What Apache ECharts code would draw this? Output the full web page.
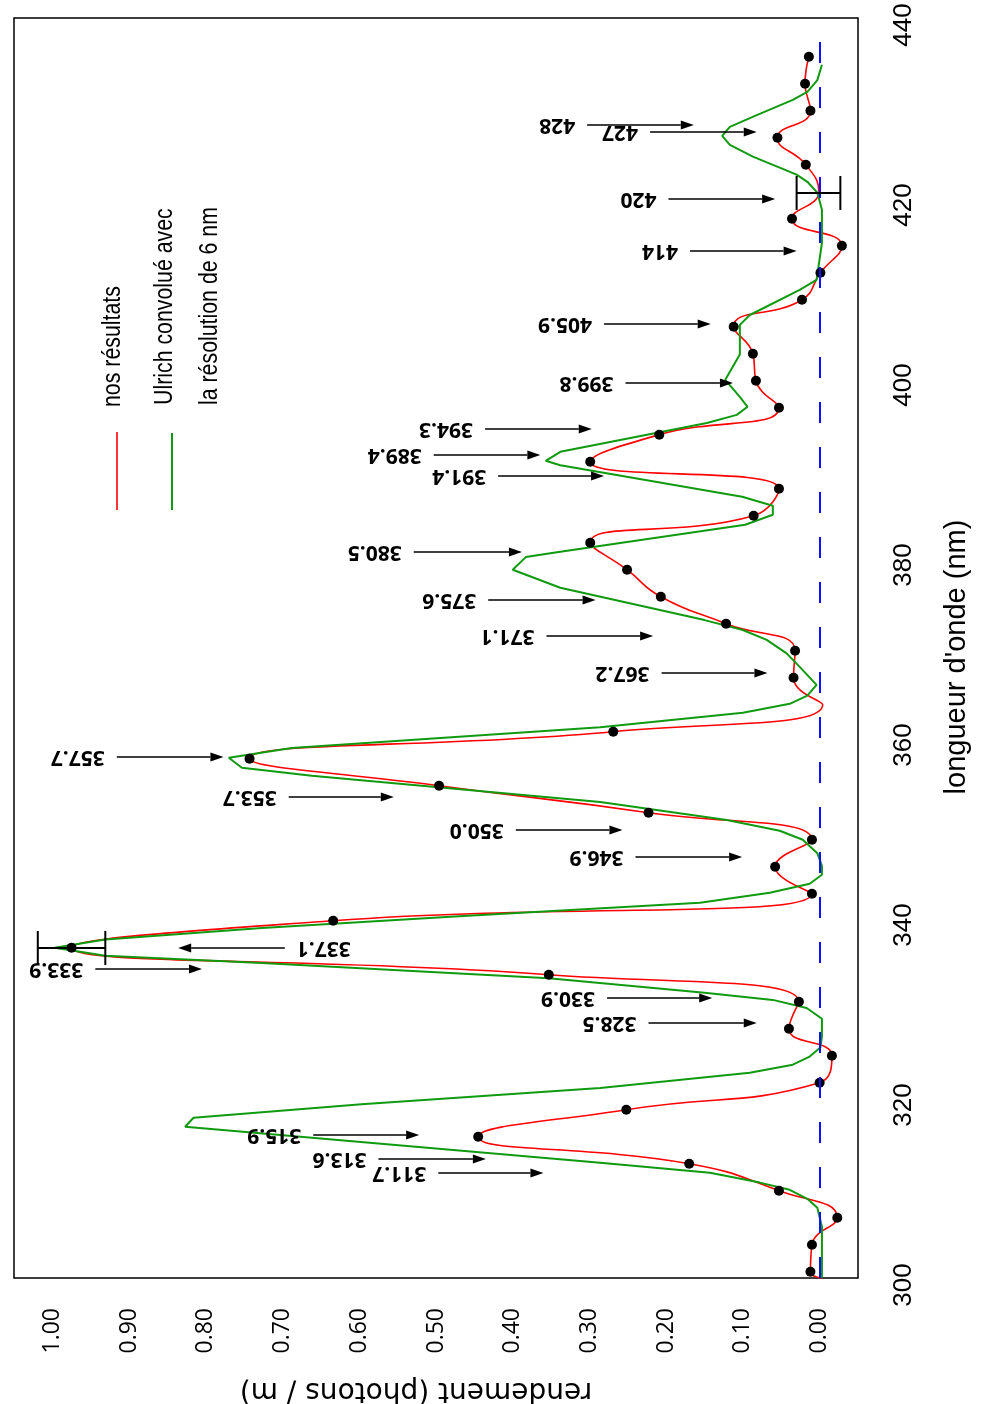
<!DOCTYPE html>
<html><head><meta charset="utf-8">
<script src="https://cdn.jsdelivr.net/npm/echarts@6/dist/echarts.min.js"></script>
<style>html,body{margin:0;padding:0;background:#fff}#c{width:983px;height:1404px}</style>
</head><body><div id="c"></div>
<script>
// ---- data (wavelength in nm, rendement in photons / m) ----
const rendTicks = [0, 0.1, 0.2, 0.3, 0.4, 0.5, 0.6, 0.7, 0.8, 0.9, 1.0];

// measured points ("nos résultats", black dots)
const dotWl  = [300.7,303.7,306.7,309.7,312.7,315.7,318.7,321.7,324.7,327.7,330.7,333.7,336.7,339.7,342.7,345.7,348.7,351.7,354.7,357.7,360.7,
                366.7,369.7,372.7,375.7,378.7,381.7,384.7,387.7,390.7,393.7,396.7,399.7,402.7,405.7,408.7,411.7,414.7,417.7,
                423.7,426.7,429.7,432.7,435.7];
const dotVal = [0.012,0.010,-0.023,0.053,0.170,0.445,0.252,0.000,-0.016,0.040,0.027,0.353,0.975,0.634,0.010,0.058,0.010,0.223,0.496,0.743,0.269,
                0.034,0.032,0.122,0.207,0.251,0.299,0.086,0.053,0.299,0.209,0.053,0.083,0.087,0.112,0.023,-0.001,-0.029,0.036,
                0.018,0.055,0.012,0.019,0.014];
// extra knots of the red curve that carry no dot
const knotWl  = [300.0, 363.7, 420.7];
const knotVal = [-0.004, -0.004, 0.001];

// "Ulrich convolué avec la résolution de 6 nm"
const ulrichWl  = [300.0,305.7,307.8,308.8,309.8,310.6,311.7,312.8,316.8,317.8,319.3,321.1,322.8,323.7,324.6,325.6,326.8,328.8,330.0,330.9,
                   331.7,333.3,335.0,335.8,336.7,337.6,338.9,340.2,341.7,342.8,343.8,344.8,345.8,347.2,348.7,349.7,350.9,352.9,355.8,356.7,
                   357.8,358.9,361.2,362.8,363.8,364.7,365.9,367.9,369.4,370.9,372.0,373.1,376.7,378.7,380.1,380.7,383.7,384.8,385.8,386.8,
                   390.3,390.8,391.8,395.0,395.9,396.8,397.9,399.8,402.6,405.9,407.0,409.8,410.9,415.0,418.7,420.6,421.8,422.6,424.6,425.9,
                   426.9,427.9,429.2,430.9,431.8,433.1,434.8];
const ulrichVal = [-0.003,-0.003,0.003,0.016,0.039,0.078,0.143,0.286,0.827,0.816,0.597,0.286,0.091,0.035,0.013,-0.001,-0.003,-0.003,0.017,0.061,
                   0.150,0.353,0.727,0.931,0.997,0.931,0.727,0.470,0.156,0.065,0.013,-0.003,-0.003,0.003,0.022,0.052,0.121,0.286,0.662,0.753,
                   0.770,0.688,0.286,0.100,0.039,0.016,0.004,0.026,0.043,0.069,0.100,0.150,0.338,0.400,0.383,0.338,0.097,0.061,0.061,0.101,
                   0.338,0.357,0.338,0.147,0.108,0.094,0.104,0.123,0.104,0.104,0.091,0.026,0.004,-0.003,-0.003,0.003,0.016,0.030,0.087,0.117,
                   0.127,0.117,0.082,0.035,0.016,0.003,-0.003];

// annotations: label, wavelength of the arrow, arrow tail and head (rendement)
const annLabels = ['311.7','313.6','315.9','328.5','330.9','333.9','337.1','346.9','350.0','353.7','357.7','367.2',
                   '371.1','375.6','380.5','391.4','389.4','394.3','399.8','405.9','414','420','427','428'];
const annWl   = [311.67,313.22,315.89,328.33,331.11,334.33,336.67,346.78,349.78,353.44,357.89,367.22,
                 371.33,375.33,380.67,389.11,391.44,394.33,399.44,406.0,414.11,419.89,427.33,428.11];
const annTail = [0.497,0.575,0.660,0.223,0.277,0.944,0.697,0.240,0.396,0.692,0.916,0.206,
                 0.356,0.432,0.529,0.419,0.503,0.436,0.253,0.281,0.169,0.197,0.221,0.303];
const annHead = [0.360,0.435,0.522,0.082,0.140,0.805,0.836,0.101,0.257,0.555,0.777,0.068,
                 0.217,0.292,0.388,0.281,0.364,0.297,0.113,0.142,0.030,0.058,0.082,0.164];

// error bars
const errWl   = [336.67, 420.56];
const errLow  = [0.931, -0.027];
const errHigh = [1.019, 0.030];

// ---- build ----
const redPts = dotWl.map((w, i) => [dotVal[i], w]).concat(knotWl.map((w, i) => [knotVal[i], w]))
  .sort((a, b) => a[1] - b[1]);
const dotPts = dotWl.map((w, i) => [dotVal[i], w]);
const ulrichPts = ulrichWl.map((w, i) => [ulrichVal[i], w]);

const sansL = '"Liberation Sans", Arial, sans-serif';

const chart = echarts.init(document.getElementById('c'), null, {renderer: 'canvas'});
chart.setOption({
  animation: false,
  backgroundColor: '#fff',
  grid: {left: 14, top: 18, right: 125, bottom: 126, show: true, borderColor: '#000', borderWidth: 1.5,
         backgroundColor: 'transparent', containLabel: false, outerBoundsMode: 'none'},
  xAxis: {
    type: 'value', inverse: true, min: -0.05, max: 1.05,
    axisLine: {show: false}, axisTick: {show: false}, splitLine: {show: false},
    axisLabel: {customValues: rendTicks, formatter: v => v.toFixed(2), rotate: 90, margin: 30,
                fontFamily: '"Open Sans", sans-serif', fontSize: 23, color: '#000'},
    name: 'rendement (photons / m)', nameLocation: 'middle', nameRotate: 180, nameGap: 98,
    nameTextStyle: {fontFamily: '"DejaVu Sans", sans-serif', fontSize: 28, color: '#000', padding: [0, 0, 0, 40]}
  },
  yAxis: {
    type: 'value', position: 'right', min: 300, max: 440, interval: 20,
    axisLine: {show: false}, axisTick: {show: false}, splitLine: {show: false},
    axisLabel: {rotate: 90, margin: 33, fontFamily: sansL, fontSize: 26, color: '#000', padding: [0, 14, 0, 0]},
    name: "longueur d'onde (nm)", nameLocation: 'middle', nameRotate: 90, nameGap: 84,
    nameTextStyle: {fontFamily: sansL, fontSize: 29, color: '#000', padding: [0, 18, 0, 0]}
  },
  series: [
    {type: 'line', name: 'nos résultats', data: redPts, smooth: 0.5, showSymbol: false, symbol: 'none',
     lineStyle: {color: '#ff0000', width: 1.6}, z: 2},
    {type: 'line', name: 'Ulrich', data: ulrichPts, smooth: false, showSymbol: false, symbol: 'none',
     lineStyle: {color: '#109a10', width: 2}, z: 3},
    {type: 'scatter', data: dotPts, symbol: 'circle', symbolSize: 10, itemStyle: {color: '#000', opacity: 1}, z: 4,
     markLine: {silent: true, symbol: 'none', label: {show: false},
                lineStyle: {color: '#1010ff', width: 2, type: [21, 24], opacity: 1},
                data: [{xAxis: 0}]}},
    {type: 'custom', coordinateSystem: 'cartesian2d', z: 5, clip: false,
     data: annWl.map((w, i) => [annTail[i], w, annHead[i], i]),
     encode: {x: [0, 2], y: 1},
     renderItem(params, api) {
       const w = api.value(1);
       const p0 = api.coord([api.value(0), w]);
       const p1 = api.coord([api.value(2), w]);
       const d = Math.sign(p1[0] - p0[0]);
       const head = 13, hw = 4.5;
       return {type: 'group', children: [
         {type: 'line', shape: {x1: p0[0], y1: p0[1], x2: p1[0] - d * head, y2: p1[1]}, style: {stroke: '#000', lineWidth: 1.6}},
         {type: 'polygon', shape: {points: [[p1[0], p1[1]], [p1[0] - d * head, p1[1] - hw], [p1[0] - d * head, p1[1] + hw]]}, style: {fill: '#000'}},
         {type: 'text', x: p0[0] - d * 12, y: p0[1], rotation: Math.PI,
          style: {text: annLabels[api.value(3)], align: d > 0 ? 'left' : 'right', verticalAlign: 'middle',
                  font: 'bold 21px "Open Sans", sans-serif', fill: '#000'}}
       ]};
     }},
    {type: 'custom', coordinateSystem: 'cartesian2d', z: 5, clip: false,
     data: errWl.map((w, i) => [errLow[i], w, errHigh[i]]),
     encode: {x: [0, 2], y: 1},
     renderItem(params, api) {
       const w = api.value(1);
       const a = api.coord([api.value(0), w]);
       const b = api.coord([api.value(2), w]);
       const c = 17;
       const st = {stroke: '#000', lineWidth: 2};
       return {type: 'group', children: [
         {type: 'line', shape: {x1: a[0], y1: a[1], x2: b[0], y2: b[1]}, style: st},
         {type: 'line', shape: {x1: a[0], y1: a[1] - c, x2: a[0], y2: a[1] + c}, style: st},
         {type: 'line', shape: {x1: b[0], y1: b[1] - c, x2: b[0], y2: b[1] + c}, style: st}
       ]};
     }}
  ],
  graphic: [
    {type: 'line', shape: {x1: 117, y1: 432, x2: 117, y2: 510}, style: {stroke: '#ff0000', lineWidth: 1.6}},
    {type: 'line', shape: {x1: 172, y1: 433, x2: 172, y2: 510}, style: {stroke: '#109a10', lineWidth: 2}},
    {type: 'text', x: 113, y: 407, rotation: Math.PI / 2, scaleX: 0.82,
     style: {text: 'nos résultats', align: 'left', verticalAlign: 'middle', font: '26px "Liberation Sans", sans-serif', fill: '#000'}},
    {type: 'text', x: 165, y: 405, rotation: Math.PI / 2, scaleX: 0.82,
     style: {text: 'Ulrich convolué avec', align: 'left', verticalAlign: 'middle', font: '26px "Liberation Sans", sans-serif', fill: '#000'}},
    {type: 'text', x: 210, y: 405, rotation: Math.PI / 2, scaleX: 0.82,
     style: {text: 'la résolution de 6 nm', align: 'left', verticalAlign: 'middle', font: '26px "Liberation Sans", sans-serif', fill: '#000'}}
  ]
});
</script></body></html>
